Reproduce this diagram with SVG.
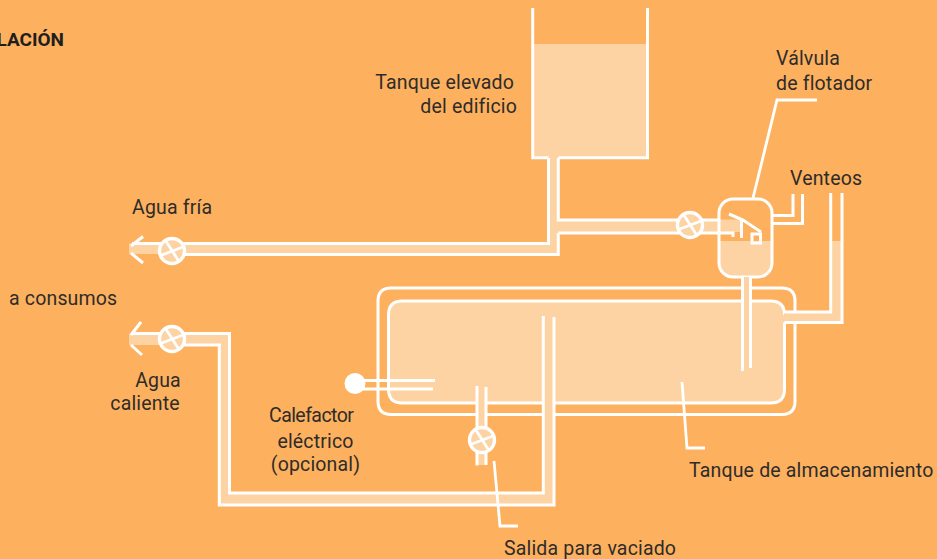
<svg xmlns="http://www.w3.org/2000/svg" width="937" height="559" viewBox="0 0 937 559">
<style>
.w{fill:none;stroke:#fff;stroke-width:3}
.l{fill:#fdd3a4;stroke:none}
.v{fill:#fdd3a4;stroke:#fff;stroke-width:3.4}
.x{fill:none;stroke:#fff;stroke-width:2.8}
.t{font-family:"Roboto","Liberation Sans",sans-serif;font-size:19.5px;letter-spacing:.17px;fill:#2e2c2a}
.b{font-family:"Roboto","Liberation Sans",sans-serif;font-size:19px;font-weight:700;fill:#1f1e1d}
.e{text-anchor:end}
.m{text-anchor:middle}
</style>
<defs>
<g id="valve">
<circle class="v" r="12.5"/>
<path class="x" d="M-11.5 4.500L11 -4M-6.500 -10.500L7 10.500"/>
</g>
</defs>
<rect width="937" height="559" fill="#fdb15f"/>
<g id="tanque-almacenamiento">
<rect class="l" x="388" y="301" width="397" height="102" rx="14"/>
<path class="w" d="M741 288H391Q378 288 378 301V401Q378 414.500 391 414.500H477M486 414.500H543M554 414.500H782Q795 414.500 795 401V322.600M795 312V301Q795 288 782 288H751"/>
<path class="w" d="M741 301H402Q388.500 301 388.500 315V389Q388.500 403 402 403H477M486 403H543M554 403H771Q784.500 403 784.500 389V322.600M784.500 312V315Q784.500 301 771 301H751"/>
</g>
<g id="connectors">
<path class="l" d="M129 243.500H548.500V157H558.300V220H720V233H558.300V254H129Z"/>
<path class="l" d="M129 333.500H229.500V493H543.500V400H554V505H219V345H129Z"/>
<path class="w" d="M132 243.500H548.500V157.700M558.300 157.700V220H720M558.300 233H720M558.300 233V254.500H184"/>
<path class="w" d="M132 333.500H229.500V493H543.300V316M184 345H219.300V505H554V317"/>
<path class="w" d="M143 236.500L131 246M131 253L143 263"/>
<path class="w" d="M141 322L131 335M131 345L142 355"/>
</g>
<g id="tanque-elevado">
<rect class="l" x="533" y="44" width="114" height="114"/>
<path class="w" d="M532.700 8V157.700H548.500M558.300 157.700H647.500V8"/>
</g>
<g id="venteo-derecho">
<path class="l" d="M784 313H832V241H842V321H784Z"/>
<path class="w" d="M784.500 312H830.700V193M784.500 322.600H842V193"/>
</g>
<g id="tanque-flotador">
<path class="l" d="M719 241H772V264Q772 277 759 277H732Q719 277 719 264Z"/>
<path class="l" d="M720 219.500H741V232H720Z"/>
<path class="w" d="M720 233H733V237"/>
<rect class="w" x="719" y="199" width="53" height="78" rx="14"/>
<path class="w" d="M773 215.500H793V194M773 223.500H802.500V194"/>
<path class="w" stroke-width="3.4" d="M729 214L743 220L761 232M741.500 220V238"/>
<rect class="w" x="752" y="234" width="8.500" height="9"/>
</g>
<g id="tubo-flotador">
<rect class="l" x="742" y="277" width="9" height="91"/>
<path class="w" d="M742.500 277V371M750.500 277V368"/>
</g>
<g id="calefactor">
<circle cx="355" cy="383.500" r="10.500" fill="#fff"/>
<path class="w" d="M360 380.500H435M360 389H433"/>
</g>
<g id="salida">
<rect class="l" x="477" y="403" width="9" height="62"/>
<path class="w" d="M477 386V465.500M486 387V465"/>
</g>
<g id="valvulas">
<use href="#valve" x="172" y="251"/>
<use href="#valve" x="172" y="339"/>
<use href="#valve" x="690" y="225"/>
<use href="#valve" x="482" y="440"/>
</g>
<g id="guias">
<path class="x" d="M753 198L777 100H817"/>
<path class="x" d="M682 382L687 448H705"/>
<path class="x" d="M494 461L500 526H518"/>
</g>
<g id="textos">
<text class="b e" x="64" y="46">LACIÓN</text>
<text class="t e" x="514" y="89">Tanque elevado</text>
<text class="t e" x="517" y="113">del edificio</text>
<text class="t" x="776" y="65">Válvula</text>
<text class="t" x="776" y="90">de flotador</text>
<text class="t" x="790" y="185">Venteos</text>
<text class="t" x="132" y="214">Agua fría</text>
<text class="t" x="9" y="305">a consumos</text>
<text class="t m" x="158" y="387">Agua</text>
<text class="t m" x="145" y="410">caliente</text>
<text class="t" x="269" y="422" textLength="85">Calefactor</text>
<text class="t m" x="315.500" y="448">eléctrico</text>
<text class="t m" x="315.500" y="471">(opcional)</text>
<text class="t" x="689" y="477">Tanque de almacenamiento</text>
<text class="t" x="504" y="555">Salida para vaciado</text>
</g>
</svg>
